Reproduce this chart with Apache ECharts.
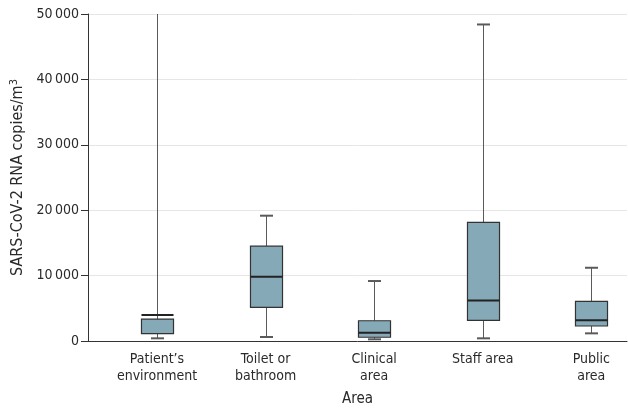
<!DOCTYPE html>
<html>
<head>
<meta charset="utf-8">
<script src="https://cdn.jsdelivr.net/npm/echarts@6/dist/echarts.min.js"></script>
<style>
  html, body { margin: 0; padding: 0; background: #fff; }
  #chart { width: 628px; height: 412px; }
</style>
</head>
<body>
<div id="chart"></div>
<script>
// categories and box stats (copies/m3)
var areas = ["Patient\u2019s\nenvironment", "Toilet or\nbathroom", "Clinical\narea", "Staff area", "Public\narea"];
var whiskerLow = [410, 610, 260, 410, 1170];
var q1 = [1120, 5150, 570, 3160, 2290];
var median = [3980, 9830, 1270, 6200, 3160];
var q3 = [3360, 14500, 3100, 18150, 6070];
var whiskerHigh = [52000, 19160, 9170, 48400, 11200]; // first one runs off the top
var yTicks = [0, 10000, 20000, 30000, 40000, 50000];

var boxData = areas.map(function (name, i) {
  return [i + 1, whiskerLow[i], q1[i], median[i], q3[i], whiskerHigh[i]];
});

function fmt(v) {
  // thin space as thousands separator, like the figure
  return v >= 10000 ? String(v).replace(/(\d+)(\d{3})$/, "$1\u2009$2") : String(v);
}

var font = "'Liberation Sans Narrow', 'DejaVu Sans Condensed', Roboto, sans-serif";
var chart = echarts.init(document.getElementById("chart"));

chart.setOption({
  animation: false,
  textStyle: { fontFamily: font },
  grid: { left: 88, right: 1, top: 14, bottom: 71 },
  xAxis: {
    type: "value",
    min: 0.3646,
    max: 5.329,
    name: "Area",
    nameLocation: "middle",
    nameGap: 51,
    nameTextStyle: { color: "#2a2a2a", fontSize: 15, fontFamily: font },
    axisLine: { show: true, lineStyle: { color: "#333" } },
    axisTick: { show: false },
    splitLine: { show: false },
    axisLabel: {
      customValues: [1, 2, 3, 4, 5],
      color: "#2a2a2a",
      fontSize: 14,
      fontFamily: font,
      lineHeight: 17,
      margin: 10,
      formatter: function (v) { return areas[Math.round(v) - 1] || ""; }
    }
  },
  yAxis: {
    type: "value",
    min: 0,
    max: 50000,
    interval: 10000,
    name: "SARS-CoV-2 RNA copies/m{sup|3}",
    nameLocation: "middle",
    nameGap: 60,
    nameTextStyle: {
      color: "#2a2a2a",
      fontSize: 16,
      fontFamily: font,
      rich: {
        sup: { fontSize: 11, fontFamily: font, color: "#2a2a2a", verticalAlign: "top", padding: [0, 0, 7, 0] }
      }
    },
    axisLine: { show: true, lineStyle: { color: "#333" } },
    axisTick: { show: true, length: 7, lineStyle: { color: "#333" } },
    axisLabel: {
      color: "#2a2a2a",
      fontSize: 14,
      fontFamily: font,
      margin: 9,
      formatter: function (v) { return yTicks.indexOf(v) >= 0 ? fmt(v) : ""; }
    },
    splitLine: { lineStyle: { color: "#e6e6e6", width: 1 } }
  },
  series: [{
    type: "custom",
    clip: true,
    data: boxData,
    renderItem: function (params, api) {
      var x = api.value(0);
      var pLow = api.coord([x, api.value(1)]);
      var pQ1 = api.coord([x, api.value(2)]);
      var pMed = api.coord([x, api.value(3)]);
      var pQ3 = api.coord([x, api.value(4)]);
      var pHigh = api.coord([x, api.value(5)]);
      var boxW = api.size([0.295, 0])[0];
      var capW = api.size([0.12, 0])[0];
      var cx = Math.round(pMed[0]) + 0.5;
      var top = Math.min(pQ1[1], pQ3[1]);
      var bot = Math.max(pQ1[1], pQ3[1]);
      var wStyle = { stroke: "#5a5a5a", lineWidth: 1 };
      return {
        type: "group",
        children: [
          { type: "line", shape: { x1: cx, y1: top, x2: cx, y2: pHigh[1] }, style: wStyle },
          { type: "line", shape: { x1: cx, y1: bot, x2: cx, y2: pLow[1] }, style: wStyle },
          { type: "line", shape: { x1: cx - capW / 2, y1: pHigh[1], x2: cx + capW / 2, y2: pHigh[1] }, style: { stroke: "#5a5a5a", lineWidth: 2 } },
          { type: "line", shape: { x1: cx - capW / 2, y1: pLow[1], x2: cx + capW / 2, y2: pLow[1] }, style: { stroke: "#5a5a5a", lineWidth: 2 } },
          { type: "rect", shape: { x: cx - boxW / 2, y: top, width: boxW, height: bot - top },
            style: { fill: "#85a9b7", stroke: "#333", lineWidth: 1.2 } },
          { type: "line", shape: { x1: cx - boxW / 2, y1: pMed[1], x2: cx + boxW / 2, y2: pMed[1] },
            style: { stroke: "#222", lineWidth: 2 } }
        ]
      };
    }
  }]
});
</script>
</body>
</html>
